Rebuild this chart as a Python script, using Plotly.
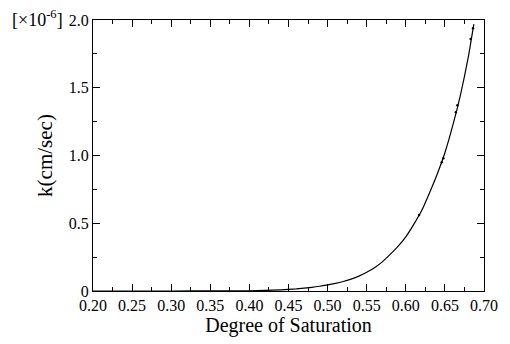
import plotly.graph_objects as go

# Data (k in units of 1e-6 cm/sec)
saturation = [0.20, 0.30, 0.36, 0.40, 0.42, 0.44, 0.46, 0.48, 0.49, 0.50, 0.51,
              0.52, 0.53, 0.54, 0.55, 0.56, 0.57, 0.58, 0.59, 0.60, 0.61, 0.62,
              0.63, 0.64, 0.65, 0.66, 0.67, 0.68, 0.687]
k_values = [0.0, 0.0, 0.0005, 0.002, 0.004, 0.009, 0.016, 0.027, 0.035, 0.045, 0.056,
            0.07, 0.088, 0.11, 0.138, 0.172, 0.215, 0.27, 0.33, 0.40, 0.49, 0.59,
            0.72, 0.86, 1.02, 1.22, 1.45, 1.73, 1.97]

marker_sat = [0.617, 0.646, 0.648, 0.664, 0.666, 0.683, 0.686]
marker_k = [0.56, 0.95, 0.98, 1.32, 1.37, 1.86, 1.94]

x_ticks = [0.20, 0.25, 0.30, 0.35, 0.40, 0.45, 0.50, 0.55, 0.60, 0.65, 0.70]
x_labels = ["0.20", "0.25", "0.30", "0.35", "0.40", "0.45", "0.50", "0.55", "0.60", "0.65", "0.70"]
y_ticks = [0, 0.5, 1.0, 1.5, 2.0]
y_labels = ["0", "0.5", "1.0", "1.5", "2.0"]

font_family = "Liberation Serif"

fig = go.Figure()
fig.add_trace(go.Scatter(x=saturation, y=k_values, mode="lines",
                         line=dict(color="black", width=1.2, shape="spline", smoothing=0.5),
                         showlegend=False, hoverinfo="skip"))
fig.add_trace(go.Scatter(x=marker_sat, y=marker_k, mode="markers",
                         marker=dict(color="black", size=2.5, symbol="circle"),
                         showlegend=False, hoverinfo="skip"))

axis_common = dict(
    showline=True, linecolor="black", linewidth=1.3, mirror="ticks",
    ticks="inside", ticklen=7, tickwidth=1, tickcolor="black",
    showgrid=False, zeroline=False,
    tickfont=dict(family=font_family, size=16, color="black"),
)

fig.update_xaxes(range=[0.2, 0.7], tickvals=x_ticks, ticktext=x_labels,
                 minor=dict(dtick=0.025, tick0=0.2, ticks="inside", ticklen=4,
                            tickcolor="black", showgrid=False),
                 title=dict(text="Degree of Saturation",
                            font=dict(family=font_family, size=20, color="black"),
                            standoff=4),
                 **axis_common)
fig.update_yaxes(range=[0, 2.0], tickvals=y_ticks, ticktext=y_labels,
                 minor=dict(dtick=0.25, tick0=0, ticks="inside", ticklen=4,
                            tickcolor="black", showgrid=False),
                 title=dict(text="k(cm/sec)",
                            font=dict(family=font_family, size=21, color="black"),
                            standoff=10),
                 **axis_common)

fig.add_annotation(text="[×10<sup>-6</sup>]", xref="paper", yref="paper",
                   x=0, y=1, xanchor="right", yanchor="middle", xshift=-28, yshift=2,
                   showarrow=False,
                   font=dict(family=font_family, size=18, color="black"))

fig.update_layout(width=510, height=344,
                  font=dict(family=font_family, color="black"),
                  margin=dict(l=93, r=20, t=14, b=47),
                  paper_bgcolor="white", plot_bgcolor="white")

fig.write_html("out.html")
